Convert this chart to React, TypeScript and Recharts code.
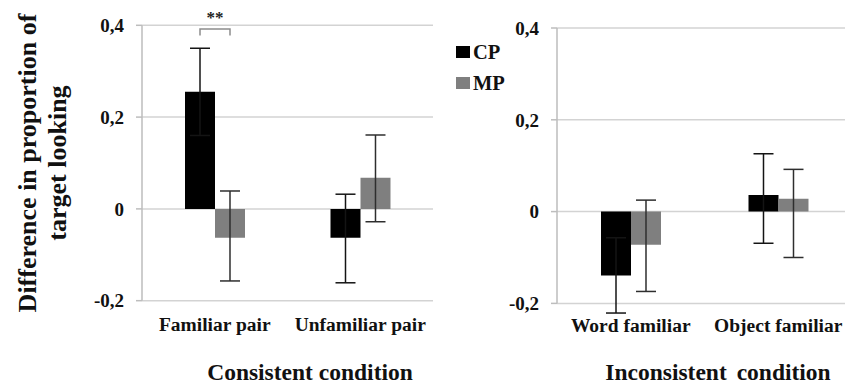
import { Bar, BarChart, CartesianGrid, ErrorBar, LabelList, XAxis, YAxis } from "recharts";

// Consistent condition (left panel)
const consistentCategories = ["Familiar pair", "Unfamiliar pair"];
const consistentCP = [0.255, -0.063];
const consistentMP = [-0.063, 0.068];
// [minus, plus]
const consistentCPErr = [[0.095, 0.095], [0.098, 0.095]];
const consistentMPErr = [[0.094, 0.102], [0.096, 0.093]];
const consistentSig = ["**", ""];

// Inconsistent condition (right panel)
const inconsistentCategories = ["Word familiar", "Object familiar"];
const inconsistentCP = [-0.139, 0.036];
const inconsistentMP = [-0.072, 0.028];
const inconsistentCPErr = [[0.082, 0.082], [0.105, 0.09]];
const inconsistentMPErr = [[0.102, 0.097], [0.128, 0.064]];

const yTicks = [-0.2, 0, 0.2, 0.4];
const seriesNames = ["CP", "MP"];
const seriesColors = ["#000000", "#7f7f7f"];

// significance bracket levels, in data units
const sigBracketTop = 0.392;
const sigBracketLeg = 0.378;
const sigTextBase = 0.406;

const FONT = '"Liberation Serif", "Times New Roman", serif';

function SigBracket(props: any) {
  const vb = props.viewBox ?? props;
  const { x, y, width, height } = vb;
  const value = props.value;
  const label = consistentSig[props.index];
  if (!label || !value) return null;
  const h = Math.abs(height);
  const pxPerUnit = h / Math.abs(value);
  const zeroY = value > 0 ? y + h : y;
  const cx1 = x + width / 2;
  const cx2 = cx1 + width;
  const top = zeroY - sigBracketTop * pxPerUnit;
  const leg = zeroY - sigBracketLeg * pxPerUnit;
  return (
    <g>
      <path
        d={`M${cx1},${leg}V${top}H${cx2}V${leg}`}
        stroke="#8c8c8c"
        strokeWidth={1.5}
        fill="none"
      />
      <text
        x={(cx1 + cx2) / 2}
        y={zeroY - sigTextBase * pxPerUnit}
        textAnchor="middle"
        fontFamily={FONT}
        fontWeight="bold"
        fontSize={17}
        fill="#222"
      >
        {label}
      </text>
    </g>
  );
}

const fmt = (v: number) => String(v).replace(".", ",");

interface PanelProps {
  categories: string[];
  cp: number[];
  mp: number[];
  cpErr: number[][];
  mpErr: number[][];
  withSig?: boolean;
  left: number;
  width: number;
  top: number;
  yAxisWidth: number;
  tickMargin: number;
  xTickMargin: number;
}

function Panel({ categories, cp, mp, cpErr, mpErr, withSig, left, width, top, yAxisWidth, tickMargin, xTickMargin }: PanelProps) {
  const data = categories.map((name, i) => ({
    name,
    cp: cp[i],
    mp: mp[i],
    cpErr: cpErr[i],
    mpErr: mpErr[i],
  }));
  const plotHeight = 275.4;
  const xAxisHeight = 44;
  return (
    <div style={{ position: "absolute", left, top: 0 }}>
      <BarChart
        width={width}
        height={top + plotHeight + xAxisHeight}
        data={data}
        margin={{ top, right: 0, bottom: 0, left: 0 }}
        barGap={0}
        barSize={30}
      >
        <CartesianGrid vertical={false} stroke="#d3d3d3" strokeWidth={1.5} />
        <XAxis
          dataKey="name"
          axisLine={false}
          tickLine={false}
          tickSize={6}
          tickMargin={xTickMargin}
          height={xAxisHeight}
          interval={0}
          tick={{ fontFamily: FONT, fontWeight: "bold", fontSize: 19.5, fill: "#111" }}
        />
        <YAxis
          domain={[-0.2, 0.4]}
          allowDataOverflow
          ticks={yTicks}
          width={yAxisWidth}
          tickSize={6}
          tickMargin={tickMargin}
          stroke="#bdbdbd"
          axisLine={{ stroke: "#bdbdbd", strokeWidth: 1.5 }}
          tickLine={{ stroke: "#bdbdbd", strokeWidth: 1.5 }}
          tickFormatter={fmt}
          tick={{ fontFamily: FONT, fontWeight: "bold", fontSize: 19, fill: "#111" }}
        />
        <Bar dataKey="cp" fill={seriesColors[0]} isAnimationActive={false}>
          <ErrorBar dataKey="cpErr" width={10} stroke="#141414" strokeWidth={1.5} direction="y" />
          {withSig && <LabelList dataKey="cp" content={<SigBracket />} />}
        </Bar>
        <Bar dataKey="mp" fill={seriesColors[1]} isAnimationActive={false}>
          <ErrorBar dataKey="mpErr" width={10} stroke="#2e2e2e" strokeWidth={1.5} direction="y" />
        </Bar>
      </BarChart>
    </div>
  );
}

export default function App() {
  const bold = { fontFamily: FONT, fontWeight: "bold" as const, color: "#111" };
  return (
    <div
      style={{
        position: "absolute",
        left: 0,
        top: 0,
        width: 845,
        height: 385,
        overflow: "hidden",
        background: "#fff",
      }}
    >
      <Panel
        categories={consistentCategories}
        cp={consistentCP}
        mp={consistentMP}
        cpErr={consistentCPErr}
        mpErr={consistentMPErr}
        withSig
        left={0}
        width={433}
        top={25.3}
        yAxisWidth={142}
        tickMargin={12}
        xTickMargin={10}
      />
      <Panel
        categories={inconsistentCategories}
        cp={inconsistentCP}
        mp={inconsistentMP}
        cpErr={inconsistentCPErr}
        mpErr={inconsistentMPErr}
        left={420}
        width={432}
        top={28}
        yAxisWidth={137}
        tickMargin={12}
        xTickMargin={9}
      />

      {/* y-axis title */}
      <div
        style={{
          ...bold,
          position: "absolute",
          left: 42.5 - 170,
          top: 163 - 30,
          width: 340,
          height: 60,
          fontSize: 26,
          lineHeight: "30px",
          textAlign: "center",
          transform: "rotate(-90deg)",
          whiteSpace: "nowrap",
        }}
      >
        Difference in proportion of
        <br />
        target looking
      </div>

      {/* panel titles */}
      <div style={{ ...bold, position: "absolute", left: 310 - 130, top: 361.1, width: 260, fontSize: 23.5, lineHeight: "22px", textAlign: "center", whiteSpace: "nowrap" }}>
        Consistent condition
      </div>
      <div style={{ ...bold, position: "absolute", left: 718 - 122, top: 361.1, width: 244, fontSize: 23.5, lineHeight: "22px", textAlign: "center", whiteSpace: "nowrap", wordSpacing: 4 }}>
        Inconsistent condition
      </div>

      {/* legend */}
      {seriesNames.map((name, i) => (
        <div
          key={name}
          style={{
            ...bold,
            position: "absolute",
            left: 456,
            top: 52 + i * 30.5 - 12,
            height: 24,
            display: "flex",
            alignItems: "center",
            fontSize: 20.5,
            lineHeight: "24px",
          }}
        >
          <span style={{ display: "inline-block", width: 14, height: 12, background: seriesColors[i], marginRight: 3 }} />
          {name}
        </div>
      ))}
    </div>
  );
}
